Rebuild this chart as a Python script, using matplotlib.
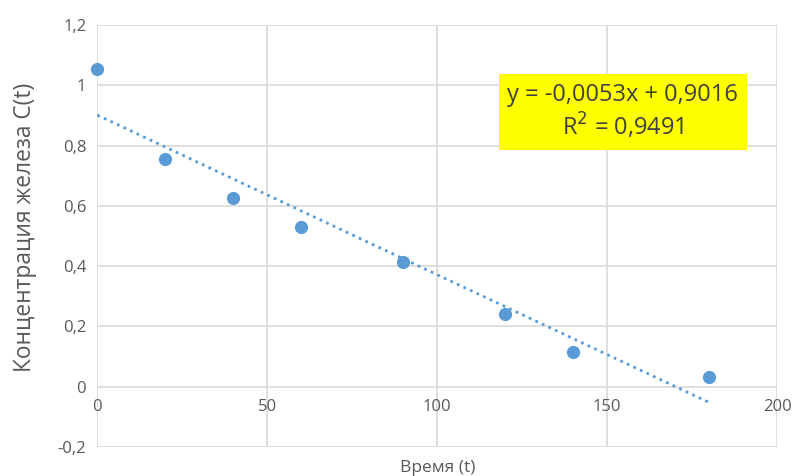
import matplotlib
matplotlib.use("Agg")
import matplotlib.pyplot as plt
import numpy as np

time_t = [0, 20, 40, 60, 90, 120, 140, 180]
conc = [1.055, 0.755, 0.625, 0.53, 0.415, 0.242, 0.115, 0.032]
trend_slope = -0.0053
trend_intercept = 0.9016
r_squared = 0.9491
x_ticks = [0, 50, 100, 150, 200]
y_ticks = [-0.2, 0, 0.2, 0.4, 0.6, 0.8, 1.0, 1.2]

plt.rcParams['font.family'] = ['Open Sans', 'DejaVu Sans']

fig = plt.figure(figsize=(7.98, 4.76), dpi=100)
ax = fig.add_axes([0.122, 0.061, 0.852, 0.886])

blue = '#5b9bd5'
grid_c = '#d9d9d9'
txt_c = '#595959'

ax.set_xlim(0, 200)
ax.set_ylim(-0.2, 1.2)
ax.set_xticks(x_ticks)
ax.set_yticks(y_ticks)
ax.grid(True, color=grid_c, linewidth=1.2)
ax.set_axisbelow(True)
for s in ax.spines.values():
    s.set_visible(False)
ax.spines['bottom'].set_position(('data', 0))

def fmt(v):
    return ('%g' % round(v, 2)).replace('.', ',')

ax.set_xticklabels([fmt(v) for v in x_ticks])
ax.set_yticklabels([fmt(v) for v in y_ticks])
ax.tick_params(length=0, labelsize=12, colors=txt_c, pad=8)
ax.tick_params(axis='x', pad=9)

xt = np.array([time_t[0], time_t[-1]])
ax.plot(xt, trend_intercept + trend_slope * xt, linestyle=(0, (1, 1.6)),
        color=blue, linewidth=2.0, zorder=2, clip_on=False)
ax.plot(time_t, conc, 'o', color=blue, markersize=8.5, zorder=3, clip_on=False)

def dec(v):
    return f'{v:.4f}'.replace('.', ',')

eq = f'y = -{dec(abs(trend_slope))}x + {dec(trend_intercept)}\nR$^{{2}}$ = {dec(r_squared)}'
ax.text(0.773, 0.794, eq,
        transform=ax.transAxes, ha='center', va='center', fontsize=17,
        color='#404040', linespacing=1.2,
        bbox=dict(boxstyle='square,pad=0.35', facecolor='#ffff00', edgecolor='none'))

ax.set_ylabel('Концентрация железа C(t)', fontsize=16.4, color=txt_c)
ax.yaxis.set_label_coords(-0.089, 0.52)
ax.set_xlabel('Время (t)', fontsize=12.5, color=txt_c)
ax.xaxis.set_label_coords(0.5, -0.03)

fig.savefig('out.png', dpi=100)
